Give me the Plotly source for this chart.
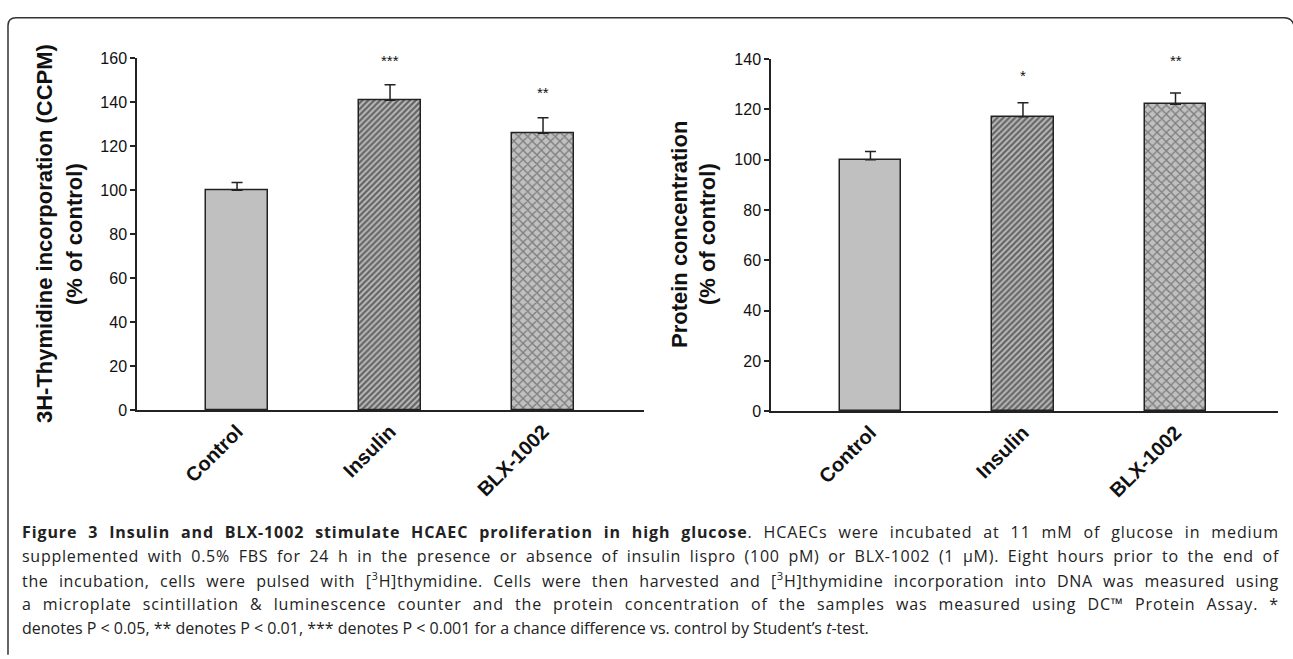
import json
import plotly.graph_objects as go

W, H = 1293, 659

categories = ["Control", "Insulin", "BLX-1002"]
thymidine_mean = [100, 141, 126]
thymidine_err = [3.6, 7.0, 7.0]
thymidine_stars = ["", "***", "**"]
thymidine_star_y = [0, 160.3, 145.7]

protein_mean = [100, 117, 122]
protein_err = [3.2, 5.6, 4.5]
protein_stars = ["", "*", "**"]
protein_star_y = [0, 134.7, 140.5]

left_ytitle = ["3H-Thymidine incorporation (CCPM)", "(% of control)"]
right_ytitle = ["Protein concentration", "(% of control)"]

caption_lines = [
    "<b>Figure 3 Insulin and BLX-1002 stimulate HCAEC proliferation in high glucose</b>. HCAECs were incubated at 11 mM of glucose in medium",
    "supplemented with 0.5% FBS for 24 h in the presence or absence of insulin lispro (100 pM) or BLX-1002 (1 μM). Eight hours prior to the end of",
    "the incubation, cells were pulsed with [<sup>3</sup>H]thymidine. Cells were then harvested and [<sup>3</sup>H]thymidine incorporation into DNA was measured using",
    "a microplate scintillation &amp; luminescence counter and the protein concentration of the samples was measured using DC™ Protein Assay. *",
    "denotes P &lt; 0.05, ** denotes P &lt; 0.01, *** denotes P &lt; 0.001 for a chance difference vs. control by Student’s <i>t</i>-test.",
]
justified_starts = ["Figure 3", "supplemented", "the incubation", "a microplate"]

ARIAL = "Arial, Liberation Sans, sans-serif"
xpos = list(range(len(categories)))
shapes_pat = ["", "/", "x"]
fg = ["#111111", "#0a0a0a", "#333333"]

YMAX_L, YMAX_R = 160, 140


def px_x(p):
    return p / W


def px_y(p):
    return (H - p) / H


fig = go.Figure()

for means, errs, xa, ya in [
    (thymidine_mean, thymidine_err, "x", "y"),
    (protein_mean, protein_err, "x2", "y2"),
]:
    fig.add_trace(go.Bar(
        x=xpos, y=means, width=0.405, xaxis=xa, yaxis=ya,
        marker=dict(
            color="#c0c0c0",
            line=dict(color="#222222", width=1.5),
            pattern=dict(shape=shapes_pat, fgcolor=fg, bgcolor="#c0c0c0",
                         size=[6, 4.2, 6.5], solidity=[0.3, 0.55, 0.36],
                         fillmode="overlay"),
        ),
        error_y=dict(type="data", array=errs, arrayminus=[0] * len(errs),
                     symmetric=False, color="#222222", thickness=1.5, width=5.5),
        showlegend=False, hoverinfo="skip",
    ))

axis_common = dict(showgrid=False, zeroline=False, showline=True,
                   linecolor="#222222", linewidth=1.5)
xtick_font = dict(family=ARIAL, size=20, color="#111111", weight="bold")
ytick_font = dict(family=ARIAL, size=16, color="#111111")

fig.update_layout(
    width=W, height=H, margin=dict(l=0, r=0, t=0, b=0),
    paper_bgcolor="white", plot_bgcolor="white",
    bargap=0,
    xaxis=dict(domain=[px_x(137), px_x(644)], range=[-0.654, 2.66],
               tickvals=xpos, ticktext=categories, tickangle=-45, ticks="",
               tickfont=xtick_font, anchor="y", **axis_common),
    yaxis=dict(domain=[px_y(413), px_y(51.7)], range=[0, YMAX_L], dtick=20,
               ticks="outside", ticklen=5, tickwidth=1.5, tickcolor="#222222",
               tickfont=ytick_font, anchor="x", **axis_common),
    xaxis2=dict(domain=[px_x(771), px_x(1278)], range=[-0.652, 2.672],
                tickvals=xpos, ticktext=categories, tickangle=-45, ticks="",
                tickfont=xtick_font, anchor="y2", **axis_common),
    yaxis2=dict(domain=[px_y(414), px_y(52.3)], range=[0, YMAX_R], dtick=20,
                ticks="outside", ticklen=5, tickwidth=1.5, tickcolor="#222222",
                tickfont=ytick_font, anchor="x2", **axis_common),
)

ann = []
# significance stars (positioned in axis-domain units so they are never hidden)
for ys, labels, xr, yr, ymax in [
    (thymidine_star_y, thymidine_stars, "x", "y domain", YMAX_L),
    (protein_star_y, protein_stars, "x2", "y2 domain", YMAX_R),
]:
    for xv, yv, t in zip(xpos, ys, labels):
        if t:
            ann.append(dict(x=xv, y=yv / ymax, xref=xr, yref=yr, text=t,
                            showarrow=False, yanchor="middle", yshift=-3,
                            font=dict(family=ARIAL, size=15, color="#111111")))

# axis titles
for lines, xs in [(left_ytitle, [44, 74]), (right_ytitle, [679, 707])]:
    for t, xp in zip(lines, xs):
        ann.append(dict(x=px_x(xp), y=px_y(232), xref="paper", yref="paper",
                        text="<b>%s</b>" % t, showarrow=False, textangle=-90,
                        xanchor="center", yanchor="middle",
                        font=dict(family=ARIAL, size=22, color="#111111")))

# caption
for k, line in enumerate(caption_lines):
    ann.append(dict(x=px_x(20), y=px_y(538 + 24.5 * k), xref="paper", yref="paper",
                    text=line, showarrow=False, xanchor="left", yanchor="middle",
                    align="left",
                    font=dict(family="Open Sans, Noto Sans, sans-serif", size=16,
                              color="#222222")))

fig.update_layout(annotations=ann)

# figure frame (rounded top corners, open bottom)
fig.add_shape(type="path", xref="paper", yref="paper",
              path="M %f,%f L %f,%f Q %f,%f %f,%f L %f,%f Q %f,%f %f,%f" % (
                  px_x(8), px_y(H + 5), px_x(8), px_y(18),
                  px_x(8), px_y(10), px_x(16), px_y(10),
                  px_x(1284), px_y(10),
                  px_x(1292), px_y(10), px_x(1294), px_y(18)),
              line=dict(color="#333333", width=1.5))

# justify the first four caption lines (split extra room between letters and words)
post = """
document.body.style.margin='0px';
var starts = %s;
var target = %d;
document.querySelectorAll('text.annotation-text').forEach(function(t){
  var s = t.textContent;
  for (var i = 0; i < starts.length; i++) {
    if (s.indexOf(starts[i]) === 0) {
      var w = t.getComputedTextLength();
      if (w >= target) { continue; }
      var nc = s.length;
      t.style.letterSpacing = (0.5 * (target - w) / nc) + 'px';
      var w2 = t.getComputedTextLength();
      var n = (s.match(/ /g) || []).length;
      if (n > 0 && w2 < target) { t.style.wordSpacing = ((target - w2) / n) + 'px'; }
    }
  }
});
""" % (json.dumps(justified_starts), 1257)

fig.write_html("out.html", post_script=post, config={"displayModeBar": False})
